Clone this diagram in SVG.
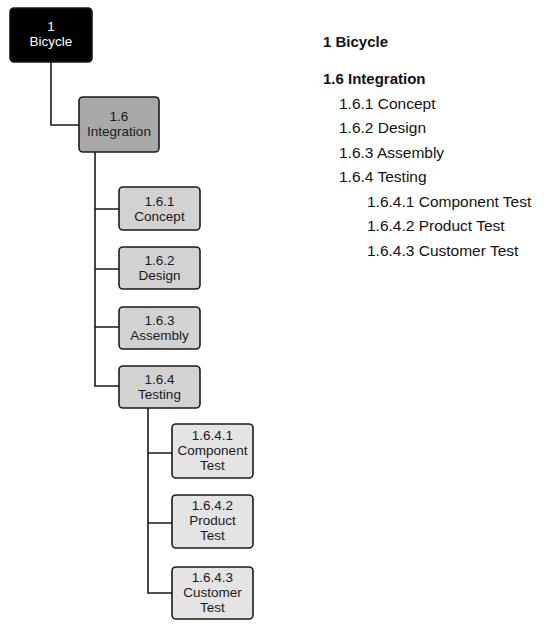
<svg xmlns="http://www.w3.org/2000/svg" width="552" height="630" viewBox="0 0 552 630">
<style>
.box{stroke:#1a1a1a;stroke-width:1.6}
.l0{fill:#000}
.l1{fill:#a8a8a8}
.l2{fill:#d2d2d2}
.l3{fill:#e4e4e4}
.nt{font-family:"Liberation Sans",Arial,sans-serif;font-size:13.5px;text-anchor:middle;fill:#1a1a1a}
.wt{fill:#fff}
.conn{fill:none;stroke:#1a1a1a;stroke-width:1.6}
.out{font-family:"Liberation Sans",Arial,sans-serif;font-size:15.5px;fill:#111}
.b{font-weight:bold;font-size:15px}
</style>
<rect width="552" height="630" fill="#fff"/>
<g id="connectors">
<path class="conn" d="M51 62 V125 H79"/>
<path class="conn" d="M95 152 V386 H119 M95 209 H119 M95 269 H119 M95 327 H119"/>
<path class="conn" d="M148 408 V593 H172 M148 453 H172 M148 523 H172"/>
</g>
<g id="n1">
<rect class="box l0" x="10" y="8" width="82" height="54" rx="4"/>
<text class="nt wt" x="51" y="31">1</text>
<text class="nt wt" x="51" y="46">Bicycle</text>
</g>
<g id="n1_6">
<rect class="box l1" x="79" y="97" width="80" height="55" rx="4"/>
<text class="nt" x="119" y="121">1.6</text>
<text class="nt" x="119" y="136">Integration</text>
</g>
<g id="n1_6_1">
<rect class="box l2" x="119" y="187" width="81" height="43" rx="4"/>
<text class="nt" x="159.5" y="206">1.6.1</text>
<text class="nt" x="159.5" y="221">Concept</text>
</g>
<g id="n1_6_2">
<rect class="box l2" x="119" y="247" width="81" height="42" rx="4"/>
<text class="nt" x="159.5" y="265">1.6.2</text>
<text class="nt" x="159.5" y="280">Design</text>
</g>
<g id="n1_6_3">
<rect class="box l2" x="119" y="307" width="81" height="42" rx="4"/>
<text class="nt" x="159.5" y="325">1.6.3</text>
<text class="nt" x="159.5" y="340">Assembly</text>
</g>
<g id="n1_6_4">
<rect class="box l2" x="119" y="366" width="81" height="42" rx="4"/>
<text class="nt" x="159.5" y="384">1.6.4</text>
<text class="nt" x="159.5" y="399">Testing</text>
</g>
<g id="n1_6_4_1">
<rect class="box l3" x="172" y="424" width="81" height="54" rx="4"/>
<text class="nt" x="212.5" y="440">1.6.4.1</text>
<text class="nt" x="212.5" y="455">Component</text>
<text class="nt" x="212.5" y="470">Test</text>
</g>
<g id="n1_6_4_2">
<rect class="box l3" x="172" y="495" width="81" height="53" rx="4"/>
<text class="nt" x="212.5" y="510">1.6.4.2</text>
<text class="nt" x="212.5" y="525">Product</text>
<text class="nt" x="212.5" y="540">Test</text>
</g>
<g id="n1_6_4_3">
<rect class="box l3" x="172" y="567" width="81" height="52" rx="4"/>
<text class="nt" x="212.5" y="582">1.6.4.3</text>
<text class="nt" x="212.5" y="597">Customer</text>
<text class="nt" x="212.5" y="612">Test</text>
</g>
<g id="outline">
<text class="out b" x="323" y="47">1 Bicycle</text>
<text class="out b" x="323" y="84">1.6 Integration</text>
<text class="out" x="339" y="109">1.6.1 Concept</text>
<text class="out" x="339" y="133">1.6.2 Design</text>
<text class="out" x="339" y="158">1.6.3 Assembly</text>
<text class="out" x="339" y="182">1.6.4 Testing</text>
<text class="out" x="367" y="207">1.6.4.1 Component Test</text>
<text class="out" x="367" y="231">1.6.4.2 Product Test</text>
<text class="out" x="367" y="256">1.6.4.3 Customer Test</text>
</g>
</svg>
